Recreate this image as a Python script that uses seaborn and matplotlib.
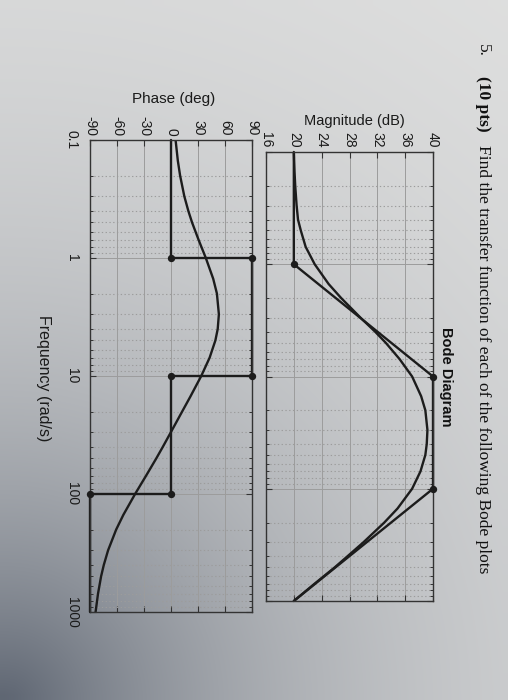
import numpy as np
import pandas as pd
import matplotlib
matplotlib.use("Agg")
import matplotlib.pyplot as plt
from matplotlib.ticker import LogLocator, FixedLocator, NullFormatter, FixedFormatter
import seaborn as sns

# ---------------- data ----------------
freq_exact = [0.1, 0.15, 0.2, 0.3, 0.4, 0.5, 0.7, 1, 1.5, 2, 3, 4, 5, 7, 10, 15, 20,
              30, 40, 50, 70, 100, 150, 200, 300, 400, 500, 700, 1000]
mag_exact = [20.0, 20.1, 20.2, 20.4, 20.6, 21.0, 21.7, 23.0, 25.0, 26.8, 29.6, 31.7, 33.2,
             35.2, 37.0, 38.3, 38.9, 39.2, 39.1, 38.9, 38.2, 37.0, 34.9, 33.0, 30.0,
             27.7, 25.9, 23.0, 20.0]
phase_exact = [5.1, 7.6, 10.1, 14.8, 19.3, 23.4, 30.6, 38.7, 46.9, 51.0, 53.2, 51.9, 49.3,
               42.9, 33.6, 21.4, 12.4, -0.2, -9.2, -16.4, -27.7, -39.9, -52.9, -60.9,
               -69.9, -74.7, -77.7, -81.1, -83.8]

freq_mag_asym = [0.1, 1, 10, 100, 1000]
mag_asym = [20, 20, 40, 40, 20]
mag_break_freq = [1, 10, 100]
mag_break_val = [20, 40, 40]

freq_phase_asym = [0.1, 1, 1, 10, 10, 100, 100, 1000]
phase_asym = [0, 0, 90, 90, 0, 0, -90, -90]
phase_break_freq = [1, 1, 10, 10, 100, 100]
phase_break_val = [0, 90, 90, 0, 0, -90]

freq_ticks = [0.1, 1, 10, 100, 1000]
freq_tick_labels = ["0.1", "1", "10", "100", "1000"]
phase_ticks = [-90, -60, -30, 0, 30, 60, 90]
mag_ticks = [16, 20, 24, 28, 32, 36, 40]

# ---------------- figure ----------------
sns.set_style("white")
plt.rcParams["font.family"] = ["Liberation Sans", "DejaVu Sans"]

W, H = 508, 700
fig = plt.figure(figsize=(W / 100, H / 100), dpi=100)

# paper background (photo shading)
bg = fig.add_axes([0, 0, 1, 1], zorder=-10)
yy, xx = np.mgrid[0:H:10, 0:W:10]
d = np.hypot(xx - 0, yy - H)
t = np.exp(-d / 330.0)[..., None]
light = np.array([0.91, 0.91, 0.905])
dark = np.array([0.36, 0.39, 0.44])
bg.imshow(light * (1 - t) + dark * t, extent=[0, W, H, 0], aspect="auto",
          interpolation="bilinear")
bg.axis("off")


def px_rect(left, right, top, bottom):
    return [left / W, 1 - bottom / H, (right - left) / W, (bottom - top) / H]


ax_p = fig.add_axes(px_rect(90, 252, 140, 612))
ax_m = fig.add_axes(px_rect(266, 433, 152, 601))

line_c = "#1c1c1c"
grid_c = "#9c9c9c"

for ax in (ax_p, ax_m):
    ax.set_facecolor("none")
    ax.set_yscale("log")

# phase
sns.lineplot(x=phase_exact, y=freq_exact, sort=False, estimator=None, orient="y",
             ax=ax_p, color=line_c, lw=1.7)
sns.lineplot(x=phase_asym, y=freq_phase_asym, sort=False, estimator=None, orient="y",
             ax=ax_p, color=line_c, lw=1.7, clip_on=False)
sns.scatterplot(x=phase_break_val, y=phase_break_freq, ax=ax_p, color=line_c, s=28,
                edgecolor=line_c, linewidth=0, zorder=5, clip_on=False)

# magnitude
sns.lineplot(x=mag_exact, y=freq_exact, sort=False, estimator=None, orient="y",
             ax=ax_m, color=line_c, lw=1.7)
sns.lineplot(x=mag_asym, y=freq_mag_asym, sort=False, estimator=None, orient="y",
             ax=ax_m, color=line_c, lw=1.7, clip_on=False)
sns.scatterplot(x=mag_break_val, y=mag_break_freq, ax=ax_m, color=line_c, s=28,
                edgecolor=line_c, linewidth=0, zorder=5, clip_on=False)

for ax, ticks, lims in ((ax_p, phase_ticks, (-90, 90)), (ax_m, mag_ticks, (16, 40))):
    ax.set_xlim(*lims)
    ax.set_ylim(1000, 0.1)
    ax.xaxis.set_major_locator(FixedLocator(ticks))
    ax.xaxis.set_major_formatter(FixedFormatter([str(v) for v in ticks]))
    ax.yaxis.set_major_locator(FixedLocator(freq_ticks))
    ax.yaxis.set_minor_locator(LogLocator(base=10, subs=np.arange(2, 10), numticks=20))
    ax.yaxis.set_minor_formatter(NullFormatter())
    ax.xaxis.tick_top()
    ax.tick_params(axis="both", which="both", direction="in", top=True, bottom=True,
                   left=True, right=True, labeltop=True, labelbottom=False,
                   colors="#333333", labelcolor="#1a1a1a", labelsize=10, pad=3)
    ax.tick_params(axis="both", which="major", length=4, width=0.8)
    ax.tick_params(axis="y", which="minor", length=2.5, width=0.7)
    ax.grid(which="major", axis="both", color=grid_c, lw=0.7, ls="-")
    ax.grid(which="minor", axis="y", color=grid_c, lw=0.8, ls=(0, (1.2, 2.2)))
    ax.set_axisbelow(True)
    for sp in ax.spines.values():
        sp.set_color("#333333")
        sp.set_linewidth(1.0)
    ax.set_xlabel("")
    ax.set_ylabel("")
    for lab in ax.get_xticklabels():
        lab.set_rotation(-90)
        lab.set_ha("center")
        lab.set_va("bottom")

ax_p.yaxis.set_major_formatter(FixedFormatter(freq_tick_labels))
for lab in ax_p.get_yticklabels():
    lab.set_rotation(-90)
    lab.set_ha("right")
    lab.set_va("center")
ax_p.tick_params(axis="y", which="major", pad=8)
ax_m.tick_params(axis="y", labelleft=False)


def ftext(x, y, s, **kw):
    fig.text(x / W, 1 - y / H, s, **kw)


ftext(174, 99, "Phase (deg)", ha="center", va="center", fontsize=11, color="#1a1a1a")
ftext(354, 121, "Magnitude (dB)", ha="center", va="center", fontsize=10.5, color="#1a1a1a")
ftext(43, 378, "Frequency (rad/s)", ha="center", va="center", rotation=-90,
      fontsize=11.5, color="#1a1a1a")
ftext(446, 377, "Bode Diagram", ha="center", va="center", rotation=-90,
      fontsize=10.5, fontweight="bold", color="#111111")

serif = ["Liberation Serif", "DejaVu Serif"]
ftext(483, 44, "5.", ha="center", va="top", rotation=-90, fontsize=12.5,
      family=serif, color="#111111")
ftext(483, 76, "(10 pts)", ha="center", va="top", rotation=-90, fontsize=12.5,
      family=serif, fontweight="bold", color="#111111")
ftext(483, 145, "Find the transfer function of each of the following Bode plots",
      ha="center", va="top", rotation=-90, fontsize=12.5, family=serif, color="#111111")

fig.savefig("out.png", dpi=100)
